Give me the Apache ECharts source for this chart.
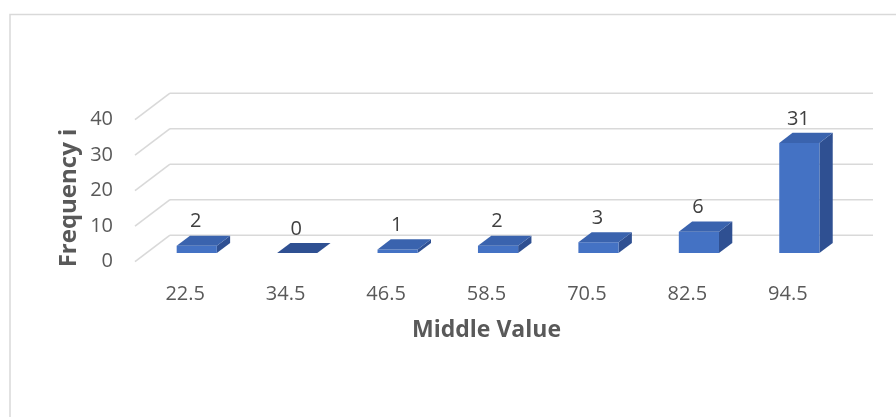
<!DOCTYPE html>
<html>
<head>
<meta charset="utf-8">
<script src="https://cdn.jsdelivr.net/npm/echarts@6/dist/echarts.min.js"></script>
<style>
  html, body { margin: 0; padding: 0; background: #fff; }
  #chart { width: 896px; height: 417px; }
</style>
</head>
<body>
<div id="chart"></div>
<script>
// Class midpoints and their frequencies
const categories = ['22.5', '34.5', '46.5', '58.5', '70.5', '82.5', '94.5'];
const frequencies = [2, 0, 1, 2, 3, 6, 31];
const yTicks = [0, 10, 20, 30, 40];

// Pseudo-3D depth: pixel offset from the front plane to the back wall
const DEPTH = [35, -26.5];
const BAR_FRONT = 0.33;   // fraction of depth where bar front face sits
const BAR_BACK = 0.71;    // fraction of depth where bar back face sits
const BAR_WIDTH = 0.40;   // fraction of the category band

const FACE = '#4472C4';
const SIDE = '#2F5092';
const TOP = '#3A63AE';
const GRID = '#d9d9d9';
const FONT = '"Open Sans", "Noto Sans", sans-serif';

const chart = echarts.init(document.getElementById('chart'));

function frameItem(params, api) {
  const v = api.value(1);
  const y = api.coord([0, v])[1];
  const cs = params.coordSys;
  const x0 = cs.x, x1 = cs.x + cs.width;
  const style = { stroke: GRID, lineWidth: 1.6 };
  return {
    type: 'group',
    children: [
      { type: 'line', shape: { x1: x0, y1: y, x2: x0 + DEPTH[0], y2: y + DEPTH[1] }, style },
      { type: 'line', shape: { x1: x0 + DEPTH[0], y1: y + DEPTH[1], x2: x1 + DEPTH[0], y2: y + DEPTH[1] }, style }
    ]
  };
}

function barItem(params, api) {
  const i = api.value(0);
  const v = api.value(1);
  const top = api.coord([i, v]);
  const base = api.coord([i, 0]);
  const w = api.size([1, 0])[0] * BAR_WIDTH;
  const fx = top[0] + DEPTH[0] * BAR_FRONT;
  const fyTop = top[1] + DEPTH[1] * BAR_FRONT;
  const fyBase = base[1] + DEPTH[1] * BAR_FRONT;
  const ddx = DEPTH[0] * (BAR_BACK - BAR_FRONT);
  const ddy = DEPTH[1] * (BAR_BACK - BAR_FRONT);
  const l = fx - w / 2, r = fx + w / 2;
  const children = [];
  // right side
  children.push({
    type: 'polygon',
    shape: { points: [[r, fyTop], [r + ddx, fyTop + ddy], [r + ddx, fyBase + ddy], [r, fyBase]] },
    style: { fill: SIDE }
  });
  // front face
  if (fyBase - fyTop > 0.5) {
    children.push({
      type: 'rect',
      shape: { x: l, y: fyTop, width: w, height: fyBase - fyTop },
      style: { fill: FACE }
    });
  }
  // top
  children.push({
    type: 'polygon',
    shape: { points: [[l, fyTop], [l + ddx, fyTop + ddy], [r + ddx, fyTop + ddy], [r, fyTop]] },
    style: { fill: v > 0 ? TOP : SIDE }
  });
  // value label
  children.push({
    type: 'text',
    style: {
      text: String(v),
      x: fx - 1, y: fyTop + ddy - 14,
      align: 'center', verticalAlign: 'middle',
      fill: '#404040', font: '20px ' + FONT
    }
  });
  return { type: 'group', children };
}

chart.setOption({
  animation: false,
  backgroundColor: '#fff',
  grid: { left: 135, right: 58, top: 119.7, bottom: 155.3 },
  xAxis: {
    type: 'category',
    data: categories,
    axisLine: { show: false },
    axisTick: { show: false },
    splitLine: { show: false },
    axisLabel: { margin: 23, color: '#595959', fontSize: 20, fontFamily: FONT },
    name: 'Middle Value',
    nameLocation: 'middle',
    nameGap: 57,
    nameTextStyle: { color: '#595959', fontSize: 23, fontWeight: 'bold', fontFamily: FONT }
  },
  yAxis: {
    type: 'value',
    min: 0, max: 40, interval: 10,
    axisLine: { show: false },
    axisTick: { show: false },
    splitLine: { show: false },
    axisLabel: { margin: 22, color: '#595959', fontSize: 20, fontFamily: FONT }
  },
  graphic: [
    {
      type: 'rect',
      shape: { x: 10, y: 14.5, width: 900, height: 420 },
      style: { fill: 'none', stroke: GRID, lineWidth: 1.5 },
      silent: true, z: -10
    },
    {
      type: 'text',
      x: 69, y: 198, rotation: Math.PI / 2,
      style: {
        text: 'Frequency i', align: 'center', verticalAlign: 'middle',
        fill: '#595959', font: 'bold 24px ' + FONT
      }
    }
  ],
  series: [
    {
      type: 'custom',
      name: 'frame',
      renderItem: frameItem,
      data: yTicks.map(t => [0, t]),
      encode: { x: 0, y: 1 },
      silent: true,
      z: 1
    },
    {
      type: 'custom',
      name: 'Frequency',
      renderItem: barItem,
      data: frequencies.map((f, i) => [i, f]),
      encode: { x: 0, y: 1 },
      z: 2
    }
  ]
});
</script>
</body>
</html>
